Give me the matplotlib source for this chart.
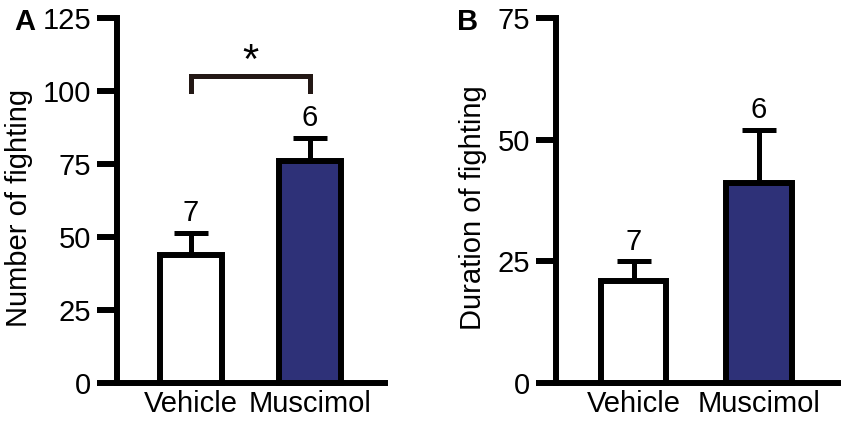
import matplotlib as mpl
mpl.use('Agg')
import matplotlib.pyplot as plt

groups = ["Vehicle", "Muscimol"]
n_animals = ["7", "6"]
number_mean = [44, 76]
number_sem = [7.5, 8]
duration_mean = [21, 41]
duration_sem = [4, 11]
bar_colors = ["white", "#2e3178"]

plt.rcParams['font.family'] = ['Liberation Sans', 'DejaVu Sans']
LW = 4.3
FS = 21


def draw_panel(ax, means, sems, ymax, yticks, ylabel, letter, label_x, letter_x):
    x = range(len(groups))
    ax.errorbar(x, means, yerr=[[0, 0], sems], fmt='none', ecolor='black',
                elinewidth=3.6, capsize=12.5, capthick=3.6, zorder=1, clip_on=False)
    ax.bar(x, means, width=0.52, color=bar_colors, edgecolor='black',
           linewidth=LW, zorder=2, clip_on=False)
    for xi, m, s, n in zip(x, means, sems, n_animals):
        ax.annotate(n, (xi, m + s), xytext=(0, 8.5), textcoords='offset points',
                    ha='center', va='baseline', fontsize=FS)
    ax.set_xlim(-0.62, 1.63)
    ax.set_ylim(0, ymax)
    ax.set_yticks(yticks)
    ax.set_xticks(list(x))
    ax.set_xticklabels(groups)
    for side in ['top', 'right']:
        ax.spines[side].set_visible(False)
    for side in ['left', 'bottom']:
        ax.spines[side].set_linewidth(LW)
    ax.tick_params(axis='y', length=14.5, width=LW, pad=4, labelsize=FS)
    ax.tick_params(axis='x', length=0, pad=5, labelsize=FS)
    ax.set_ylabel(ylabel, fontsize=FS)
    ax.yaxis.set_label_coords(label_x, 0.48)
    ax.text(letter_x, 0.99, letter, transform=ax.transAxes, fontsize=21,
            fontweight='bold', ha='center', va='center')


fig = plt.figure(figsize=(8.5, 4.21), dpi=100)
ax1 = fig.add_axes([117 / 850, 38 / 421, 268 / 850, 365 / 421])
ax2 = fig.add_axes([556 / 850, 38 / 421, 282 / 850, 365 / 421])

draw_panel(ax1, number_mean, number_sem, 125, [0, 25, 50, 75, 100, 125],
           "Number of fighting", "A", -0.313, -0.345)
draw_panel(ax2, duration_mean, duration_sem, 75, [0, 25, 50, 75],
           "Duration of fighting", "B", -0.245, -0.315)

# significance bracket
ax1.plot([0, 0, 1, 1], [100, 105, 105, 100], color='#231815', linewidth=3.6,
         solid_joinstyle='miter', clip_on=False)
ax1.text(0.5, 110, "*", ha='center', va='center', fontsize=30)

fig.savefig("out.png", dpi=100)
